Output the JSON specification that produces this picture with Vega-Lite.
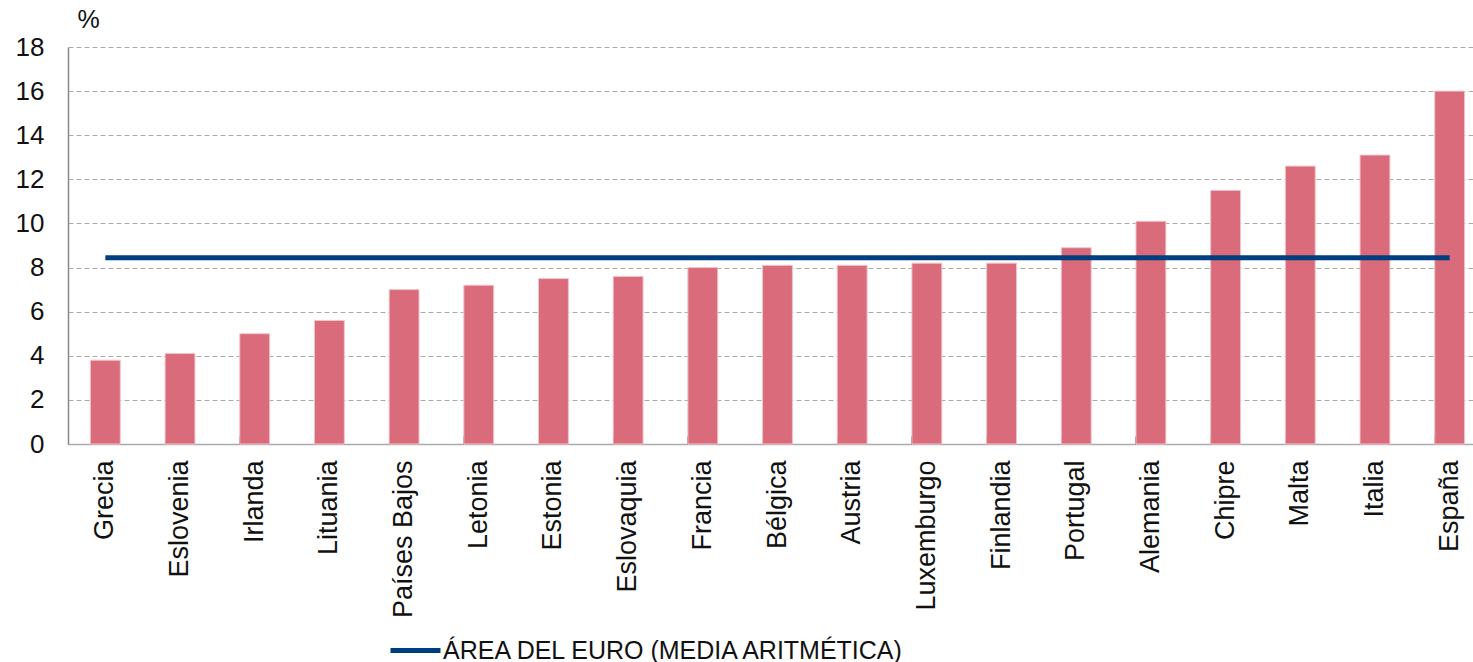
{
  "$schema": "https://vega.github.io/schema/vega-lite/v6.json",
  "width": 1419,
  "height": 397,
  "autosize": {"type": "none"},
  "padding": {"left": 68, "top": 47, "right": 5, "bottom": 218},
  "background": "white",
  "config": {
    "view": {"stroke": null},
    "font": "Liberation Sans",
    "axis": {"labelFont": "Liberation Sans", "titleFont": "Liberation Sans", "labelColor": "#111", "titleColor": "#111"}
  },
  "data": {
    "values": [
      {"pais": "Grecia", "valor": 3.8, "media": 8.45, "serie": "ÁREA DEL EURO (MEDIA ARITMÉTICA)"},
      {"pais": "Eslovenia", "valor": 4.1, "media": 8.45, "serie": "ÁREA DEL EURO (MEDIA ARITMÉTICA)"},
      {"pais": "Irlanda", "valor": 5.0, "media": 8.45, "serie": "ÁREA DEL EURO (MEDIA ARITMÉTICA)"},
      {"pais": "Lituania", "valor": 5.6, "media": 8.45, "serie": "ÁREA DEL EURO (MEDIA ARITMÉTICA)"},
      {"pais": "Países Bajos", "valor": 7.0, "media": 8.45, "serie": "ÁREA DEL EURO (MEDIA ARITMÉTICA)"},
      {"pais": "Letonia", "valor": 7.2, "media": 8.45, "serie": "ÁREA DEL EURO (MEDIA ARITMÉTICA)"},
      {"pais": "Estonia", "valor": 7.5, "media": 8.45, "serie": "ÁREA DEL EURO (MEDIA ARITMÉTICA)"},
      {"pais": "Eslovaquia", "valor": 7.6, "media": 8.45, "serie": "ÁREA DEL EURO (MEDIA ARITMÉTICA)"},
      {"pais": "Francia", "valor": 8.0, "media": 8.45, "serie": "ÁREA DEL EURO (MEDIA ARITMÉTICA)"},
      {"pais": "Bélgica", "valor": 8.1, "media": 8.45, "serie": "ÁREA DEL EURO (MEDIA ARITMÉTICA)"},
      {"pais": "Austria", "valor": 8.1, "media": 8.45, "serie": "ÁREA DEL EURO (MEDIA ARITMÉTICA)"},
      {"pais": "Luxemburgo", "valor": 8.2, "media": 8.45, "serie": "ÁREA DEL EURO (MEDIA ARITMÉTICA)"},
      {"pais": "Finlandia", "valor": 8.2, "media": 8.45, "serie": "ÁREA DEL EURO (MEDIA ARITMÉTICA)"},
      {"pais": "Portugal", "valor": 8.9, "media": 8.45, "serie": "ÁREA DEL EURO (MEDIA ARITMÉTICA)"},
      {"pais": "Alemania", "valor": 10.1, "media": 8.45, "serie": "ÁREA DEL EURO (MEDIA ARITMÉTICA)"},
      {"pais": "Chipre", "valor": 11.5, "media": 8.45, "serie": "ÁREA DEL EURO (MEDIA ARITMÉTICA)"},
      {"pais": "Malta", "valor": 12.6, "media": 8.45, "serie": "ÁREA DEL EURO (MEDIA ARITMÉTICA)"},
      {"pais": "Italia", "valor": 13.1, "media": 8.45, "serie": "ÁREA DEL EURO (MEDIA ARITMÉTICA)"},
      {"pais": "España", "valor": 16.0, "media": 8.45, "serie": "ÁREA DEL EURO (MEDIA ARITMÉTICA)"}
    ]
  },
  "encoding": {
    "x": {
      "field": "pais",
      "type": "nominal",
      "sort": null,
      "scale": {"paddingInner": 0.6, "paddingOuter": 0.3},
      "axis": {
        "title": null,
        "labelAngle": -90,
        "labelAlign": "right",
        "labelBaseline": "middle",
        "labelFontSize": 27,
        "labelPadding": 24,
        "bandPosition": 0,
        "tickSize": -8,
        "tickColor": "#777",
        "domainColor": "#aaa",
        "domainWidth": 1.5,
        "grid": false
      }
    }
  },
  "layer": [
    {
      "mark": {"type": "bar", "color": "#d96b7a", "stroke": "#f2c4ca", "strokeWidth": 1},
      "encoding": {
        "y": {
          "field": "valor",
          "type": "quantitative",
          "scale": {"domain": [0, 18], "nice": false},
          "axis": {
            "values": [0, 2, 4, 6, 8, 10, 12, 14, 16, 18],
            "title": "%",
            "titleAngle": 0,
            "titleFontSize": 25,
            "titleFontWeight": "normal",
            "titleX": 20,
            "titleY": -15,
            "titleAlign": "center",
            "titleBaseline": "bottom",
            "labelFontSize": 26,
            "labelPadding": 24,
            "ticks": false,
            "domainColor": "#888",
            "domainWidth": 1.5,
            "grid": true,
            "gridColor": "#aaa",
            "gridDash": [5, 3],
            "gridWidth": 1
          }
        }
      }
    },
    {
      "mark": {"type": "line", "strokeWidth": 5},
      "encoding": {
        "y": {"field": "media", "type": "quantitative"},
        "color": {
          "field": "serie",
          "type": "nominal",
          "scale": {"range": ["#003f7f"]},
          "legend": {
            "title": null,
            "orient": "none",
            "legendX": 320,
            "legendY": 576,
            "padding": 0,
            "symbolType": "stroke",
            "symbolSize": 2500,
            "symbolStrokeWidth": 5,
            "labelFontSize": 25,
            "labelFont": "Liberation Sans",
            "labelColor": "#111",
            "labelOffset": 0,
            "labelLimit": 800
          }
        }
      }
    }
  ]
}
